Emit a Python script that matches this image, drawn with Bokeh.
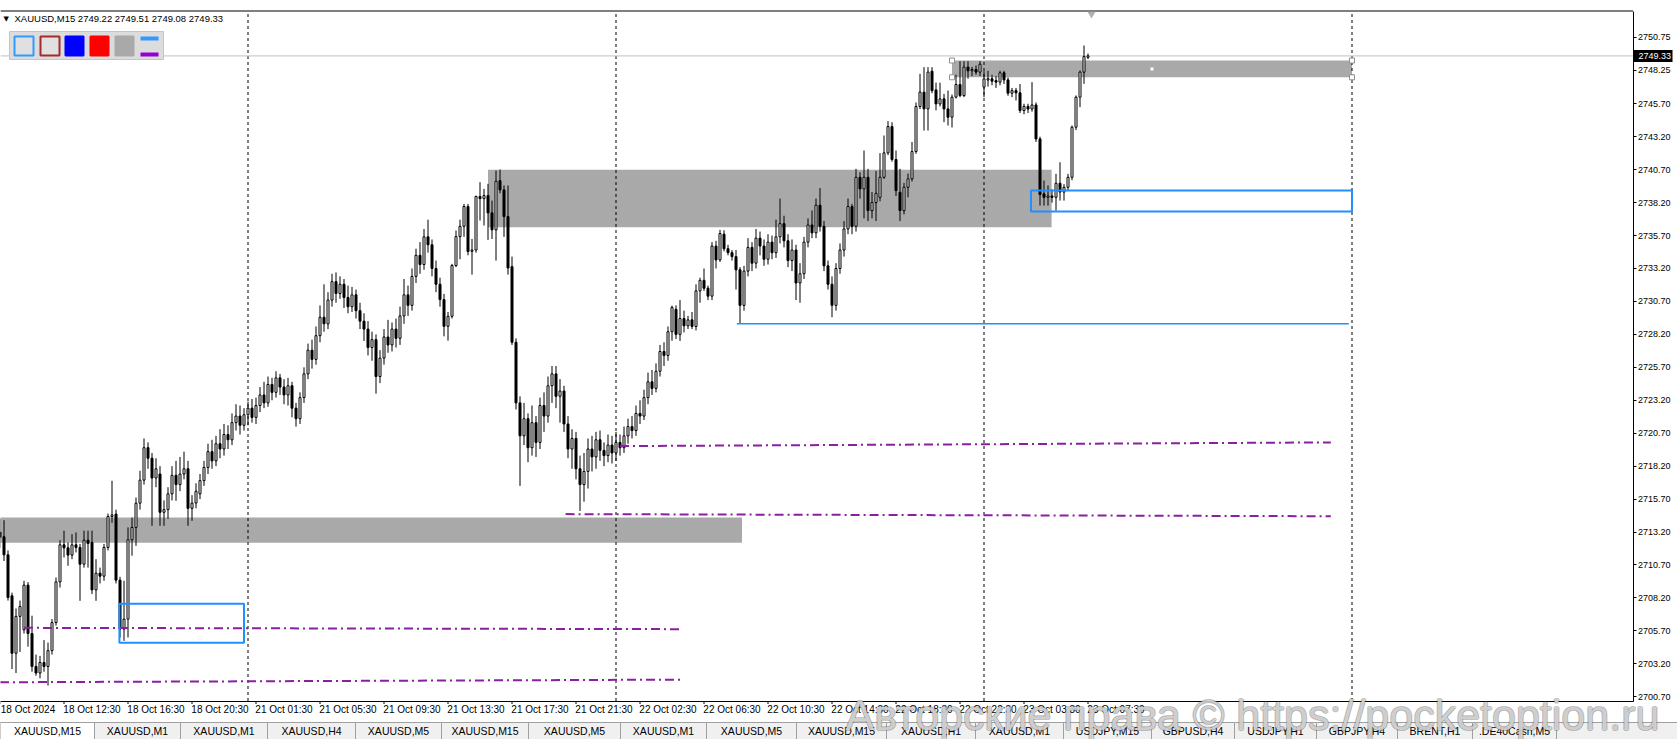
from bokeh.plotting import figure
from bokeh.models import Range1d, FixedTicker, NumeralTickFormatter, Label, BoxAnnotation, ColumnDataSource
from bokeh.embed import file_html
from bokeh.resources import INLINE

# ---------------- data (XAUUSD, M15) ----------------
bar_open = [
    2713.2, 2712.84, 2711.47, 2708.36, 2704.0, 2706.8, 2705.78, 2709.17, 2705.5, 2703.0,
    2702.5, 2703.3, 2703.0, 2704.2, 2706.33, 2709.42, 2712.23, 2712.0, 2711.45, 2712.23,
    2712.03, 2710.76, 2712.58, 2712.41, 2708.81, 2710.08, 2709.85, 2712.03, 2714.38, 2714.56,
    2709.55, 2705.83, 2706.59, 2712.61, 2713.55, 2715.39, 2717.14, 2719.6, 2718.8, 2717.3,
    2717.6, 2714.7, 2714.9, 2716.1, 2717.5, 2716.8, 2717.6, 2718.0, 2715.0, 2715.4,
    2716.1, 2717.1, 2718.1, 2719.3, 2718.6, 2719.9, 2719.5, 2720.6, 2720.2, 2721.5,
    2722.0, 2721.3, 2722.1, 2722.6, 2721.9, 2722.8, 2723.6, 2723.0, 2724.4, 2723.8,
    2724.9, 2724.2, 2723.6, 2724.3, 2722.6, 2721.8, 2723.4, 2725.2, 2727.0, 2726.3,
    2728.1, 2729.5, 2729.0, 2730.8, 2732.2, 2731.3, 2732.0, 2731.0, 2730.3, 2731.2,
    2730.0, 2729.2, 2728.6, 2727.2, 2727.8, 2725.0, 2726.4, 2728.0, 2727.4, 2728.6,
    2727.9, 2729.6, 2731.2, 2730.4, 2732.6, 2734.2, 2733.5, 2735.6, 2735.0, 2733.2,
    2732.0, 2730.84, 2728.81, 2729.57, 2733.42, 2735.62, 2736.4, 2737.9, 2734.5, 2734.6,
    2738.66, 2738.5, 2738.73, 2737.42, 2736.13, 2739.87, 2739.16, 2737.14, 2733.34, 2727.6,
    2723.0, 2720.5, 2721.8, 2719.6, 2721.5, 2720.0, 2722.8, 2722.0, 2724.3, 2725.2,
    2723.5, 2723.9, 2721.4, 2719.5, 2720.3, 2718.0, 2716.8, 2717.8, 2719.5, 2718.9,
    2720.2, 2719.4, 2719.0, 2719.8, 2719.2, 2720.0, 2719.6, 2720.5, 2721.2, 2720.9,
    2722.2, 2722.0, 2723.4, 2724.6, 2724.1, 2725.4, 2726.9, 2726.6, 2728.4, 2730.1,
    2728.2, 2729.4, 2728.85, 2729.3, 2728.8, 2731.5, 2732.3, 2731.7, 2731.1, 2734.9,
    2733.85, 2735.8, 2734.7, 2734.4, 2734.1, 2733.1, 2730.4, 2733.0, 2734.8, 2733.6,
    2735.5, 2734.9, 2733.9, 2735.2, 2734.4, 2735.6, 2736.6, 2735.3, 2733.8, 2734.6,
    2732.1, 2732.8, 2735.2, 2736.5, 2735.9, 2738.0, 2736.4, 2733.4, 2732.0, 2730.4,
    2733.2, 2734.6, 2736.2, 2737.9, 2736.4, 2740.12, 2739.24, 2740.12, 2737.59, 2738.2,
    2738.6, 2740.12, 2741.97, 2743.97, 2741.47, 2738.98, 2737.59, 2739.36, 2740.0, 2742.07,
    2745.49, 2746.58, 2745.31, 2748.17, 2746.75, 2745.69, 2746.07, 2745.31, 2744.68, 2746.2,
    2747.16, 2746.32, 2748.48, 2748.2, 2748.3, 2748.1, 2746.96, 2747.5, 2747.59, 2747.46,
    2747.34, 2748.05, 2747.51, 2746.5, 2746.7, 2746.53, 2745.19, 2745.5, 2745.3, 2745.61,
    2743.03, 2738.86, 2738.6, 2738.7, 2738.6, 2739.67, 2739.0, 2739.36, 2740.12, 2743.92,
    2746.2, 2748.1, 2749.22,
]
bar_high = [
    2714.2, 2714.1, 2711.8, 2708.6, 2707.4, 2708.0, 2709.5, 2709.4, 2706.85, 2703.9,
    2703.8, 2705.0, 2704.81, 2706.6, 2709.75, 2712.58, 2713.3, 2712.41, 2713.04, 2713.17,
    2712.3, 2713.3, 2713.3, 2713.3, 2711.14, 2710.5, 2712.3, 2714.6, 2717.09, 2714.9,
    2709.8, 2709.5, 2713.55, 2714.3, 2715.82, 2717.85, 2720.3, 2720.0, 2719.2, 2718.8,
    2718.2, 2715.6, 2716.6, 2718.2, 2718.6, 2718.9, 2719.3, 2718.6, 2716.0, 2716.9,
    2717.6, 2718.6, 2719.9, 2720.2, 2720.5, 2721.0, 2721.4, 2721.3, 2722.2, 2722.9,
    2722.8, 2722.6, 2723.1, 2723.3, 2723.4, 2724.2, 2724.6, 2725.0, 2724.9, 2725.4,
    2725.2, 2724.8, 2724.9, 2724.6, 2723.0, 2723.8, 2725.7, 2727.5, 2727.8, 2728.8,
    2730.4, 2732.0, 2731.4, 2732.8, 2732.9, 2732.6, 2732.4, 2731.9, 2731.8, 2731.6,
    2730.6, 2729.8, 2729.2, 2728.4, 2728.2, 2727.0, 2728.6, 2729.3, 2729.1, 2729.4,
    2730.3, 2732.4, 2731.9, 2733.2, 2734.7, 2735.2, 2736.2, 2736.9, 2735.4, 2733.8,
    2732.5, 2731.27, 2729.9, 2733.55, 2736.08, 2736.9, 2738.1, 2738.1, 2735.44, 2738.73,
    2739.75, 2739.24, 2739.62, 2738.35, 2740.63, 2740.71, 2739.5, 2739.5, 2734.1, 2727.9,
    2723.5, 2723.0, 2722.2, 2722.8, 2722.0, 2723.4, 2723.8, 2725.0, 2725.8, 2725.8,
    2724.8, 2724.3, 2722.0, 2721.0, 2720.8, 2719.0, 2719.2, 2720.3, 2720.5, 2720.8,
    2720.9, 2720.0, 2720.6, 2720.5, 2720.8, 2720.6, 2721.2, 2721.8, 2722.0, 2722.8,
    2723.2, 2724.0, 2725.3, 2725.5, 2726.0, 2727.4, 2727.6, 2728.8, 2730.38, 2730.4,
    2730.8, 2730.0, 2729.6, 2729.9, 2732.0, 2732.5, 2733.2, 2731.9, 2735.2, 2735.3,
    2736.13, 2736.1, 2735.0, 2734.6, 2734.6, 2733.3, 2733.4, 2735.5, 2735.2, 2736.2,
    2736.0, 2735.4, 2735.8, 2735.7, 2736.9, 2738.5, 2737.2, 2735.8, 2735.4, 2735.0,
    2733.6, 2735.6, 2737.0, 2737.6, 2738.5, 2739.3, 2736.8, 2733.8, 2732.6, 2733.6,
    2735.1, 2736.8, 2738.5, 2738.1, 2740.76, 2740.5, 2742.15, 2740.76, 2739.0, 2740.6,
    2741.95, 2743.29, 2744.38, 2744.3, 2742.15, 2740.76, 2739.7, 2740.4, 2742.8, 2745.8,
    2747.97, 2748.48, 2748.48, 2748.48, 2747.3, 2747.3, 2746.45, 2746.7, 2746.4, 2747.9,
    2748.93, 2748.93, 2748.93, 2748.5, 2748.6, 2748.93, 2748.17, 2748.2, 2747.9, 2747.8,
    2748.2, 2748.2, 2747.7, 2746.9, 2746.9, 2747.2, 2745.7, 2745.7, 2747.34, 2745.8,
    2743.2, 2739.87, 2739.5, 2739.2, 2740.38, 2741.26, 2739.6, 2740.38, 2744.05, 2746.33,
    2748.22, 2750.12, 2749.51,
]
bar_low = [
    2712.0, 2711.0, 2708.0, 2702.8, 2702.5, 2704.1, 2705.5, 2704.5, 2702.6, 2702.3,
    2702.1, 2702.6, 2701.55, 2703.9, 2706.1, 2708.99, 2711.27, 2710.64, 2711.14, 2711.65,
    2707.98, 2710.5, 2710.5, 2708.5, 2707.98, 2709.3, 2709.5, 2711.8, 2713.9, 2709.3,
    2705.2, 2704.94, 2705.2, 2711.4, 2712.15, 2714.9, 2716.8, 2718.0, 2713.67, 2716.6,
    2713.67, 2713.67, 2714.2, 2715.6, 2715.57, 2716.3, 2717.2, 2713.67, 2714.05, 2715.0,
    2715.7, 2716.7, 2717.6, 2718.0, 2718.2, 2718.8, 2719.0, 2719.5, 2719.8, 2720.9,
    2720.6, 2720.9, 2721.3, 2721.5, 2721.4, 2722.3, 2722.6, 2722.7, 2723.2, 2723.4,
    2723.6, 2722.9, 2722.8, 2721.9, 2721.2, 2721.4, 2723.0, 2724.8, 2725.6, 2725.9,
    2727.6, 2728.4, 2728.6, 2730.3, 2730.6, 2730.9, 2730.2, 2729.8, 2729.9, 2729.4,
    2728.6, 2727.7, 2726.6, 2726.2, 2723.7, 2724.5, 2725.9, 2726.8, 2726.9, 2727.2,
    2727.4, 2729.0, 2729.6, 2730.0, 2732.1, 2732.8, 2733.1, 2734.4, 2732.6, 2731.4,
    2730.3, 2728.05, 2727.72, 2729.4, 2733.3, 2733.9, 2735.6, 2734.2, 2732.73, 2734.4,
    2736.84, 2736.46, 2735.37, 2735.44, 2733.8, 2738.9, 2735.6, 2732.73, 2727.4, 2722.5,
    2716.7, 2719.8, 2718.5, 2719.0, 2718.9, 2719.5, 2720.8, 2721.5, 2723.0, 2722.6,
    2721.5, 2720.8, 2718.8, 2718.0, 2717.2, 2714.8, 2715.5, 2716.5, 2717.8, 2718.0,
    2718.6, 2718.2, 2718.5, 2718.4, 2718.6, 2719.0, 2719.2, 2719.9, 2720.3, 2720.5,
    2721.4, 2721.7, 2722.9, 2723.6, 2723.8, 2725.0, 2725.8, 2726.2, 2727.72, 2727.85,
    2727.7, 2728.35, 2728.6, 2728.6, 2728.5, 2730.6, 2731.5, 2730.8, 2730.8, 2733.2,
    2733.7, 2734.5, 2734.2, 2733.8, 2731.6, 2729.0, 2730.0, 2732.6, 2733.0, 2733.2,
    2734.2, 2733.4, 2733.5, 2733.9, 2734.0, 2735.1, 2734.8, 2733.3, 2733.0, 2730.8,
    2730.6, 2732.4, 2734.8, 2735.5, 2735.5, 2736.0, 2733.0, 2731.6, 2729.5, 2730.0,
    2732.8, 2734.1, 2735.8, 2735.8, 2736.0, 2738.5, 2737.0, 2736.8, 2737.0, 2736.8,
    2738.3, 2740.0, 2741.8, 2741.3, 2738.7, 2736.8, 2737.3, 2738.6, 2739.8, 2741.9,
    2745.3, 2743.67, 2743.67, 2746.5, 2745.2, 2745.5, 2744.3, 2744.05, 2743.9, 2746.1,
    2746.2, 2746.2, 2747.6, 2747.8, 2747.9, 2747.8, 2746.2, 2747.0, 2747.1, 2746.9,
    2747.1, 2747.2, 2746.3, 2746.2, 2745.95, 2745.0, 2744.9, 2745.0, 2745.1, 2742.8,
    2737.97, 2737.97, 2737.97, 2738.2, 2737.59, 2738.35, 2738.35, 2739.1, 2739.9, 2743.7,
    2745.44, 2747.21, 2749.08,
]
bar_close = [
    2712.8, 2711.47, 2708.23, 2704.0, 2706.8, 2707.55, 2709.17, 2705.5, 2703.0, 2702.5,
    2703.3, 2703.0, 2704.2, 2706.33, 2709.42, 2712.23, 2712.0, 2711.45, 2712.23, 2712.03,
    2710.76, 2712.58, 2712.33, 2708.81, 2710.08, 2709.85, 2712.03, 2714.38, 2714.5, 2709.55,
    2705.83, 2706.59, 2712.61, 2713.55, 2715.39, 2717.14, 2719.6, 2718.8, 2717.3, 2718.0,
    2714.7, 2714.9, 2716.1, 2717.5, 2716.8, 2717.6, 2718.0, 2715.0, 2715.4, 2716.3,
    2717.1, 2718.1, 2719.3, 2718.6, 2719.9, 2719.5, 2720.6, 2720.2, 2721.5, 2722.0,
    2721.3, 2722.1, 2722.6, 2721.9, 2722.8, 2723.6, 2723.0, 2724.4, 2723.8, 2724.9,
    2724.2, 2723.6, 2724.3, 2722.6, 2721.8, 2723.4, 2725.2, 2727.0, 2726.3, 2728.1,
    2729.5, 2729.0, 2730.8, 2732.2, 2731.3, 2732.0, 2731.0, 2730.3, 2731.2, 2730.0,
    2729.2, 2728.6, 2727.2, 2727.8, 2725.0, 2726.4, 2728.0, 2727.4, 2728.6, 2727.9,
    2729.6, 2731.2, 2730.4, 2732.6, 2734.2, 2733.5, 2735.6, 2735.0, 2733.2, 2732.0,
    2730.84, 2728.81, 2729.57, 2733.42, 2735.62, 2736.4, 2737.9, 2734.48, 2734.6, 2738.66,
    2738.5, 2738.73, 2737.42, 2736.13, 2739.82, 2739.16, 2737.14, 2733.24, 2727.6, 2723.0,
    2720.5, 2721.8, 2719.6, 2721.5, 2720.0, 2722.8, 2722.0, 2724.3, 2725.2, 2723.5,
    2723.9, 2721.4, 2719.5, 2720.3, 2718.0, 2716.8, 2717.8, 2719.5, 2718.9, 2720.2,
    2719.4, 2719.0, 2719.8, 2719.2, 2720.0, 2719.6, 2720.5, 2721.2, 2720.9, 2722.2,
    2722.0, 2723.4, 2724.6, 2724.1, 2725.4, 2726.9, 2726.6, 2728.4, 2730.25, 2728.2,
    2729.4, 2728.85, 2729.3, 2728.8, 2731.5, 2732.3, 2731.7, 2731.1, 2734.9, 2733.85,
    2735.85, 2734.7, 2734.4, 2734.1, 2733.1, 2730.4, 2733.0, 2734.8, 2733.6, 2735.5,
    2734.9, 2733.9, 2735.2, 2734.4, 2735.6, 2736.6, 2735.3, 2733.8, 2734.6, 2732.1,
    2732.8, 2735.2, 2736.5, 2735.9, 2738.0, 2736.4, 2733.4, 2732.0, 2730.4, 2733.2,
    2734.6, 2736.2, 2737.9, 2736.4, 2740.12, 2739.24, 2740.12, 2737.59, 2738.2, 2738.9,
    2740.12, 2741.97, 2743.97, 2741.47, 2739.11, 2737.59, 2739.36, 2740.0, 2742.07, 2745.49,
    2746.58, 2745.31, 2748.1, 2746.7, 2745.69, 2746.07, 2745.31, 2744.68, 2746.2, 2747.16,
    2746.32, 2748.48, 2748.2, 2748.3, 2748.1, 2748.7, 2747.59, 2747.6, 2747.41, 2747.34,
    2748.05, 2747.51, 2746.5, 2746.7, 2746.53, 2745.19, 2745.5, 2745.3, 2745.61, 2743.03,
    2738.81, 2738.6, 2738.7, 2738.6, 2739.67, 2739.0, 2739.36, 2740.12, 2743.92, 2746.2,
    2748.1, 2749.28, 2749.33,
]

header_text = "XAUUSD,M15  2749.22 2749.51 2749.08 2749.33"
last_price = 2749.33

# time axis: bar index where each label starts, and the label text
time_tick_bars = [0, 16, 32, 48, 64, 80, 96, 112, 128, 144, 160, 176, 192, 208, 224, 240, 256, 272]
time_tick_labels = ["18 Oct 2024", "18 Oct 12:30", "18 Oct 16:30", "18 Oct 20:30", "21 Oct 01:30",
                    "21 Oct 05:30", "21 Oct 09:30", "21 Oct 13:30", "21 Oct 17:30", "21 Oct 21:30",
                    "22 Oct 02:30", "22 Oct 06:30", "22 Oct 10:30", "22 Oct 14:30", "22 Oct 18:30",
                    "22 Oct 22:30", "23 Oct 03:30", "23 Oct 07:30"]
day_separators = [62, 154, 246, 338]

price_ticks = [2700.7, 2703.2, 2705.7, 2708.2, 2710.7, 2713.2, 2715.7, 2718.2, 2720.7, 2723.2,
               2725.7, 2728.2, 2730.7, 2733.2, 2735.7, 2738.2, 2740.7, 2743.2, 2745.7, 2748.25, 2750.75]

# grey zones
zone_left = [-1.0, 122.0, 238.0]
zone_right = [185.5, 262.9, 338.0]
zone_top = [2714.30, 2740.70, 2748.98]
zone_bottom = [2712.38, 2736.32, 2747.71]

# blue rectangles
bbox_left = [29.85, 257.75]
bbox_right = [61.0, 338.0]
bbox_top = [2707.75, 2739.11]
bbox_bottom = [2704.79, 2737.52]

# blue horizontal level
blue_x0, blue_x1, blue_level = 184.2, 337.2, 2729.0

# purple dash-dot trend lines
purple_x0 = [6.0, 0.0, 155.0, 141.4]
purple_x1 = [170.0, 170.0, 332.7, 332.7]
purple_y0 = [2705.93, 2701.80, 2719.72, 2714.56]
purple_y1 = [2705.83, 2702.00, 2720.00, 2714.40]

tab_names = ["XAUUSD,M15", "XAUUSD,M1", "XAUUSD,M1", "XAUUSD,H4", "XAUUSD,M5", "XAUUSD,M15",
             "XAUUSD,M5", "XAUUSD,M1", "XAUUSD,M5", "XAUUSD,M15", "XAUUSD,H1", "XAUUSD,M1",
             "USDJPY,M15", "GBPUSD,H4", "USDJPY,H1", "GBPJPY,H4", "BRENT,H1", ".DE40Cash,M5"]
tab_edges = [0, 94, 180, 267, 355, 441, 528, 620, 706, 796, 886, 975, 1063, 1151, 1234, 1316, 1397, 1472, 1556]

watermark = "Авторские права © https://pocketoption.ru"

# ---------------- layout helpers (screen px -> data) ----------------
W, H = 1677, 739
CHART_TOP, CHART_BOTTOM, CHART_RIGHT = 10.5, 700.5, 1632.5
PX_BAR = 4.0
PPU = 13.178
REF_PRICE, REF_Y = 2750.75, 36.7
LABEL_SHIFT = 7.0   # axis labels are centred; MT4 labels start at the bar


def bx(sx):
    return (sx + 0.5) / PX_BAR


def py(sy):
    return REF_PRICE - (sy - REF_Y) / PPU


p = figure(width=W, height=H,
           x_range=Range1d(bx(0), bx(W)), y_range=Range1d(py(H), py(0)),
           y_axis_location="right", output_backend="svg", toolbar_location=None,
           min_border_left=0, min_border_right=0, min_border_top=0, min_border_bottom=0,
           background_fill_color="white", border_fill_color="white")
p.outline_line_color = None
p.grid.visible = False

# price axis (fixed at the chart's right border)
yax = p.yaxis[0]
yax.fixed_location = bx(CHART_RIGHT)
yax.bounds = (py(CHART_BOTTOM), py(CHART_TOP))
yax.ticker = FixedTicker(ticks=price_ticks)
yax.formatter = NumeralTickFormatter(format="0.00")
yax.major_label_text_font = "Liberation Sans"
yax.major_label_text_font_size = "9px"
yax.major_label_text_color = "#000000"
yax.major_tick_out = 3
yax.major_tick_in = 0
yax.minor_tick_line_color = None
yax.major_label_standoff = 2
yax.axis_line_color = "black"

# time axis (fixed at the chart's bottom border)
xax = p.xaxis[0]
xax.fixed_location = py(CHART_BOTTOM)
xax.bounds = (bx(0), bx(CHART_RIGHT))
label_pos = [b + LABEL_SHIFT for b in time_tick_bars]
xax.ticker = FixedTicker(ticks=label_pos)
xax.major_label_overrides = dict(zip(label_pos, time_tick_labels))
xax.major_label_text_font = "Liberation Sans"
xax.major_label_text_font_size = "10px"
xax.major_label_text_color = "#000000"
xax.major_tick_out = 0
xax.major_tick_in = 0
xax.minor_tick_line_color = None
xax.major_label_standoff = 3
xax.axis_line_color = "black"
# small MT4 tick marks at the label starts
p.segment(x0=time_tick_bars, y0=[py(CHART_BOTTOM)] * len(time_tick_bars),
          x1=time_tick_bars, y1=[py(CHART_BOTTOM + 3)] * len(time_tick_bars),
          line_color="black", line_width=1)

# top border
p.segment(x0=[bx(0)], y0=[py(CHART_TOP)], x1=[bx(CHART_RIGHT)], y1=[py(CHART_TOP)],
          line_color="black", line_width=1)

# zones
p.quad(left=zone_left, right=zone_right, top=zone_top, bottom=zone_bottom,
       fill_color="#A9A9A9", line_color=None)

# day separators
p.segment(x0=day_separators, y0=[py(CHART_BOTTOM)] * 4, x1=day_separators, y1=[py(CHART_TOP)] * 4,
          line_color="black", line_width=1, line_dash="3 3")

# last price line
p.segment(x0=[bx(0)], y0=[last_price], x1=[bx(CHART_RIGHT)], y1=[last_price],
          line_color="#C0C0C0", line_width=1)

# candles
n = len(bar_open)
xs = list(range(n))
hi = [max(h, o, c) for h, o, c in zip(bar_high, bar_open, bar_close)]
lo = [min(l, o, c) for l, o, c in zip(bar_low, bar_open, bar_close)]
src = ColumnDataSource(dict(
    x=xs, high=hi, low=lo,
    top=[max(o, c) for o, c in zip(bar_open, bar_close)],
    bottom=[min(o, c) for o, c in zip(bar_open, bar_close)],
    fill=["white" if c >= o else "black" for o, c in zip(bar_open, bar_close)],
))
p.segment(x0="x", y0="low", x1="x", y1="high", source=src, line_color="black", line_width=1)
p.vbar(x="x", width=0.5, top="top", bottom="bottom", source=src,
       fill_color="fill", line_color="black", line_width=1)

# purple dash-dot lines
p.segment(x0=purple_x0, y0=purple_y0, x1=purple_x1, y1=purple_y1,
          line_color="#8A1FA0", line_width=2, line_dash="9 4 2 4")

# blue rectangles and level
p.quad(left=bbox_left, right=bbox_right, top=bbox_top, bottom=bbox_bottom,
       fill_color=None, line_color="#1E90FF", line_width=2)
p.segment(x0=[blue_x0], y0=[blue_level], x1=[blue_x1], y1=[blue_level],
          line_color="#1E90FF", line_width=1.5)

# selection handles of the top zone
hx = [zone_left[2], zone_left[2], zone_right[2], zone_right[2]]
hy = [zone_top[2], zone_bottom[2], zone_top[2], zone_bottom[2]]
p.scatter(hx, hy, marker="square", size=5, fill_color="white", line_color="#909090")
p.scatter([(zone_left[2] + zone_right[2]) / 2], [(zone_top[2] + zone_bottom[2]) / 2],
          marker="square", size=3, fill_color="white", line_color=None)

# chart shift marker
p.scatter([bx(1091)], [py(13.5)], marker="inverted_triangle", size=8,
          fill_color="#B0B0B0", line_color=None)

# header
p.add_layout(Label(x=bx(3), y=py(18), text="▼", text_font="DejaVu Sans", text_font_size="7px",
                   text_baseline="middle", text_align="left", text_color="black"))
p.add_layout(Label(x=bx(14), y=py(18), text=header_text, text_font="Liberation Sans",
                   text_font_size="9.5px", text_baseline="middle", text_align="left",
                   text_color="black"))

# object palette
p.add_layout(BoxAnnotation(left=bx(9), right=bx(163), top=py(31), bottom=py(59),
                           fill_color="#DCDCDC", fill_alpha=1, line_color="#C4C4C4",
                           line_alpha=1, line_width=1))
pal = [(14, 33, "#E0E0E0", "#3399FF"), (40, 59, "#E0E0E0", "#A52A2A"),
       (65, 83, "#0000FF", "#0000FF"), (90, 108, "#FF0000", "#FF0000"),
       (115, 133, "#A9A9A9", "#A9A9A9")]
for l, r, fc, lc in pal:
    p.add_layout(BoxAnnotation(left=bx(l), right=bx(r), top=py(36), bottom=py(55),
                               fill_color=fc, fill_alpha=1, line_color=lc, line_alpha=1,
                               line_width=2))
p.add_layout(BoxAnnotation(left=bx(140), right=bx(158), top=py(36), bottom=py(40),
                           fill_color="#3399FF", fill_alpha=1, line_color=None))
p.add_layout(BoxAnnotation(left=bx(140), right=bx(158), top=py(52), bottom=py(56),
                           fill_color="#9400D3", fill_alpha=1, line_color=None))

# current price tag on the axis
p.add_layout(BoxAnnotation(left=bx(1633.5), right=bx(1672), top=py(49.5), bottom=py(61.5),
                           fill_color="black", fill_alpha=1, line_color=None))
p.add_layout(Label(x=bx(1638), y=last_price, text="2749.33", text_color="white",
                   text_font="Liberation Sans", text_font_size="9px",
                   text_baseline="middle", text_align="left"))

# tab bar
TAB_T, TAB_B = 722, 739
p.add_layout(BoxAnnotation(left=bx(-20), right=bx(1700), top=py(TAB_T), bottom=py(TAB_B + 6),
                           fill_color="#F0F0F0", fill_alpha=1, line_color="#A0A0A0",
                           line_alpha=1, line_width=1))
for i, name in enumerate(tab_names):
    l, r = tab_edges[i], tab_edges[i + 1]
    p.add_layout(BoxAnnotation(left=bx(l), right=bx(r), top=py(TAB_T), bottom=py(TAB_B),
                               fill_color="white" if i == 0 else "#F0F0F0", fill_alpha=1,
                               line_color="#A0A0A0", line_alpha=1, line_width=1))
    p.add_layout(Label(x=bx((l + r) / 2), y=py((TAB_T + TAB_B) / 2), text=name,
                       text_font="Liberation Sans", text_font_size="10.5px",
                       text_align="center", text_baseline="middle", text_color="black"))

# watermark: outlined look (dark offset copies + light fill on top)
WM_X, WM_Y = bx(845), py(714)
for dx, dy in [(-1, 0), (1, 0), (0, -1), (0, 1)]:
    p.add_layout(Label(x=WM_X, y=WM_Y, x_offset=dx, y_offset=dy, text=watermark,
                       text_font="Liberation Sans", text_font_size="43px",
                       text_color="#505050", text_alpha=0.35,
                       text_align="left", text_baseline="middle"))
p.add_layout(Label(x=WM_X, y=WM_Y, text=watermark, text_font="Liberation Sans",
                   text_font_size="43px", text_color="#EDEDED",
                   text_alpha=0.75, text_align="left", text_baseline="middle"))

open("out.html", "w").write(file_html(p, INLINE))
